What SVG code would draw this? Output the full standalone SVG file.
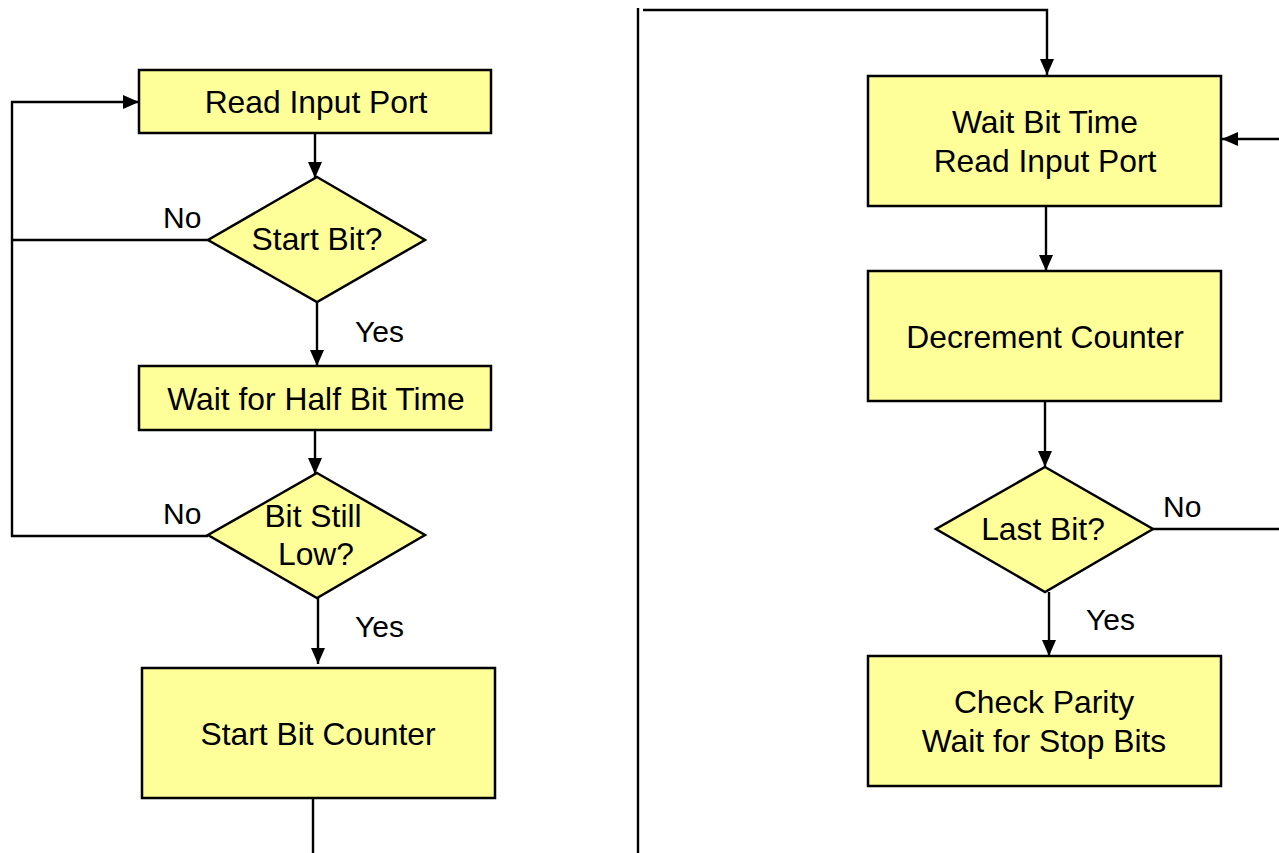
<svg xmlns="http://www.w3.org/2000/svg" width="1279" height="853" viewBox="0 0 1279 853">
<style>
.box{fill:#FFFF99;stroke:#000;stroke-width:2.5}
.ln{fill:none;stroke:#000;stroke-width:2.4}
.t{font-family:"Liberation Sans",Arial,sans-serif;font-size:31.8px;fill:#000;text-anchor:middle}
.l{font-family:"Liberation Sans",Arial,sans-serif;font-size:30px;fill:#000}
</style>
<defs>
<marker id="ah" markerWidth="16" markerHeight="14" viewBox="0 0 16 14" refX="16" refY="7" orient="auto" markerUnits="userSpaceOnUse">
<path d="M0,0 L16,7 L0,14 Z" fill="#000"/>
</marker>
</defs>
<rect width="1279" height="853" fill="#fff"/>
<g id="connectors">
<line class="ln" x1="638" y1="8" x2="638" y2="853"/>
<path class="ln" d="M643,10 H1047 V75" marker-end="url(#ah)"/>
<path class="ln" d="M1279,139 H1222" marker-end="url(#ah)"/>
<path class="ln" d="M1046,206 V271" marker-end="url(#ah)"/>
<path class="ln" d="M1045,401 V467" marker-end="url(#ah)"/>
<path class="ln" d="M1153,529 H1279"/>
<path class="ln" d="M1049,592 V656" marker-end="url(#ah)"/>
<path class="ln" d="M208,240 H12"/>
<path class="ln" d="M208,536 H12 V102 H139" marker-end="url(#ah)"/>
<path class="ln" d="M315,133 V178" marker-end="url(#ah)"/>
<path class="ln" d="M317,302 V366" marker-end="url(#ah)"/>
<path class="ln" d="M315,430 V474" marker-end="url(#ah)"/>
<path class="ln" d="M318,598 V664" marker-end="url(#ah)"/>
<path class="ln" d="M313,798 V853"/>
</g>
<g id="n_read">
<rect class="box" x="139" y="70" width="352" height="63"/>
<text class="t" x="316" y="113">Read Input Port</text>
</g>
<g id="n_start">
<polygon class="box" points="317,177 425,240 317,302 208,240"/>
<text class="t" x="317" y="250">Start Bit?</text>
</g>
<g id="n_half">
<rect class="box" x="139" y="366" width="352" height="64"/>
<text class="t" x="316" y="410">Wait for Half Bit Time</text>
</g>
<g id="n_low">
<polygon class="box" points="317,473 425,535 317,598 208,535"/>
<text class="t" x="313" y="527">Bit Still</text>
<text class="t" x="316" y="565">Low?</text>
</g>
<g id="n_counter">
<rect class="box" x="142" y="668" width="353" height="130"/>
<text class="t" x="318" y="745">Start Bit Counter</text>
</g>
<g id="n_wait">
<rect class="box" x="868" y="76" width="353" height="130"/>
<text class="t" x="1045" y="133">Wait Bit Time</text>
<text class="t" x="1045" y="172">Read Input Port</text>
</g>
<g id="n_dec">
<rect class="box" x="868" y="271" width="353" height="130"/>
<text class="t" x="1045" y="348">Decrement Counter</text>
</g>
<g id="n_last">
<polygon class="box" points="1045,467 1153,529 1045,592 936,529"/>
<text class="t" x="1043" y="540">Last Bit?</text>
</g>
<g id="n_parity">
<rect class="box" x="868" y="656" width="353" height="130"/>
<text class="t" x="1044" y="713">Check Parity</text>
<text class="t" x="1044" y="752">Wait for Stop Bits</text>
</g>
<g id="labels">
<text class="l" x="163" y="228">No</text>
<text class="l" x="355" y="342">Yes</text>
<text class="l" x="163" y="524">No</text>
<text class="l" x="355" y="637">Yes</text>
<text class="l" x="1163" y="517">No</text>
<text class="l" x="1086" y="630">Yes</text>
</g>
</svg>
